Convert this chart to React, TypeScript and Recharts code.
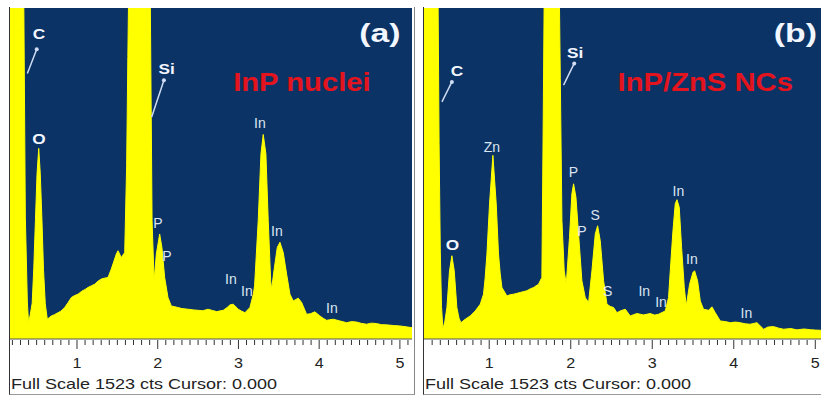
import { AreaChart, Area, XAxis, YAxis, CartesianGrid, ReferenceDot, ReferenceLine } from 'recharts'

// EDS spectra, energy in keV, counts (full scale 1523 cts)
const FULL_SCALE = 1523

const ENERGY_A = [
  0.17, 0.3, 0.34, 0.36, 0.385, 0.4, 0.42, 0.445, 0.465, 0.485, 0.505, 0.526, 0.545, 0.566, 0.585, 0.607,
  0.632, 0.682, 0.72, 0.765, 0.8, 0.848, 0.89, 0.93, 0.97, 1.012, 1.06, 1.1, 1.136, 1.18, 1.219, 1.26,
  1.301, 1.34, 1.384, 1.425, 1.487, 1.508, 1.549, 1.591, 1.615, 1.63, 1.66, 1.7, 1.74, 1.8, 1.86, 1.905,
  1.93, 1.955, 1.983, 2.024, 2.052, 2.086, 2.127, 2.168, 2.25, 2.3, 2.375, 2.44, 2.498, 2.56, 2.622, 2.68,
  2.73, 2.812, 2.86, 2.895, 2.936, 2.998, 3.04, 3.081, 3.142, 3.184, 3.2, 3.245, 3.279, 3.307, 3.34, 3.369,
  3.399, 3.411, 3.44, 3.481, 3.514, 3.555, 3.597, 3.638, 3.679, 3.741, 3.783, 3.844, 3.89, 3.947, 4.009, 4.05,
  4.092, 4.174, 4.257, 4.34, 4.4, 4.463, 4.52, 4.587, 4.65, 4.71, 4.77, 4.835, 4.92, 5.0, 5.08, 5.15,
]
const COUNTS_A = [
  2600, 2600, 1600, 560, 170, 75, 110, 165, 330, 545, 760, 877, 760, 545, 320, 162,
  91, 106, 112, 121, 128, 145, 168, 191, 200, 206, 220, 228, 237, 245, 252, 266,
  276, 280, 283, 322, 391, 406, 375, 398, 800, 1300, 2200, 3500, 4000, 3500, 2200, 1700,
  545, 268, 391, 483, 421, 283, 191, 152, 145, 140, 137, 134, 132, 130, 137, 131,
  126, 132, 145, 157, 160, 137, 128, 121, 145, 206, 245, 545, 852, 941, 852, 545,
  268, 229, 314, 421, 445, 398, 298, 206, 175, 188, 168, 114, 116, 125, 106, 95,
  86, 91, 83, 75, 80, 78, 72, 68, 73, 71, 66, 65, 62, 60, 56, 52,
]

const ENERGY_B = [
  0.2, 0.34, 0.37, 0.385, 0.4, 0.415, 0.432, 0.455, 0.481, 0.513, 0.542, 0.571, 0.603, 0.63, 0.653, 0.706,
  0.767, 0.828, 0.89, 0.93, 0.95, 0.972, 1.004, 1.045, 1.086, 1.114, 1.135, 1.156, 1.217, 1.258, 1.298, 1.34,
  1.38, 1.42, 1.462, 1.5, 1.544, 1.605, 1.646, 1.66, 1.675, 1.7, 1.76, 1.83, 1.86, 1.872, 1.892, 1.92,
  1.945, 1.985, 2.014, 2.035, 2.064, 2.096, 2.137, 2.178, 2.219, 2.26, 2.301, 2.33, 2.362, 2.403, 2.444, 2.485,
  2.525, 2.567, 2.607, 2.669, 2.73, 2.77, 2.812, 2.893, 2.975, 3.03, 3.077, 3.16, 3.2, 3.221, 3.254, 3.282,
  3.303, 3.331, 3.36, 3.393, 3.417, 3.458, 3.499, 3.519, 3.556, 3.589, 3.629, 3.691, 3.732, 3.773, 3.834, 3.9,
  3.957, 4.02, 4.08, 4.14, 4.202, 4.285, 4.366, 4.42, 4.488, 4.55, 4.611, 4.7, 4.775, 4.86, 4.939, 5.0, 5.074,
]
const COUNTS_B = [
  2600, 2600, 1700, 900, 400, 150, 45, 80, 145, 314, 383, 314, 145, 95, 75, 91,
  106, 129, 160, 206, 280, 391, 622, 845, 622, 391, 300, 237, 198, 204, 206, 210,
  214, 218, 222, 230, 237, 252, 283, 900, 1600, 2600, 3500, 2600, 1600, 1200, 545, 314,
  252, 468, 668, 714, 652, 483, 268, 191, 168, 314, 483, 521, 452, 268, 160, 150,
  145, 121, 129, 137, 106, 112, 117, 111, 117, 110, 114, 129, 191, 314, 498, 622,
  641, 606, 421, 237, 152, 252, 306, 314, 268, 175, 137, 132, 148, 121, 83, 80,
  75, 78, 75, 70, 68, 75, 45, 55, 57, 50, 45, 48, 42, 46, 43, 41, 40,
]

const TICKS_A = [
  0.2, 0.3, 0.4, 0.5, 0.6, 0.7, 0.8, 0.9, 1, 1.1, 1.2, 1.3, 1.4, 1.5, 1.6, 1.7, 1.8, 1.9, 2, 2.1, 2.2, 2.3, 2.4, 2.5,
  2.6, 2.7, 2.8, 2.9, 3, 3.1, 3.2, 3.3, 3.4, 3.5, 3.6, 3.7, 3.8, 3.9, 4, 4.1, 4.2, 4.3, 4.4, 4.5, 4.6, 4.7, 4.8, 4.9,
  5, 5.1,
]
const TICKS_B = [
  0.3, 0.4, 0.5, 0.6, 0.7, 0.8, 0.9, 1, 1.1, 1.2, 1.3, 1.4, 1.5, 1.6, 1.7, 1.8, 1.9, 2, 2.1, 2.2, 2.3, 2.4, 2.5,
  2.6, 2.7, 2.8, 2.9, 3, 3.1, 3.2, 3.3, 3.4, 3.5, 3.6, 3.7, 3.8, 3.9, 4, 4.1, 4.2, 4.3, 4.4, 4.5, 4.6, 4.7, 4.8, 4.9,
  5,
]

// peak labels: text, energy, counts, bold
const LABELS_A = [
  ['C', 0.529, 1408, true],
  ['Si', 2.111, 1246, true],
  ['O', 0.529, 923, true],
  ['In', 3.266, 992, false],
  ['P', 2.003, 535, false],
  ['P', 2.115, 383, false],
  ['In', 3.477, 498, false],
  ['In', 2.907, 277, false],
  ['In', 3.105, 222, false],
  ['In', 4.158, 143, false],
] as const
const LABELS_B = [
  ['C', 0.604, 1237, true],
  ['Si', 2.055, 1320, true],
  ['O', 0.55, 437, true],
  ['Zn', 1.033, 883, false],
  ['P', 2.034, 767, false],
  ['P', 2.137, 498, false],
  ['S', 2.301, 571, false],
  ['S', 2.452, 222, false],
  ['In', 3.32, 683, false],
  ['In', 3.487, 368, false],
  ['In', 2.902, 222, false],
  ['In', 3.107, 168, false],
  ['In', 4.155, 121, false],
] as const

const ARROWS_A = [
  [0.385, 1222, 0.501, 1333],
  [1.925, 1021, 2.077, 1191],
]
const ARROWS_B = [
  [0.42, 1091, 0.542, 1183],
  [1.912, 1168, 2.043, 1268],
]

const BG = '#0b3365'
const YELLOW = '#ffff00'
const FONT = '"Liberation Sans", Arial, sans-serif'
const CAPTION = 'Full Scale 1523 cts Cursor: 0.000'

function zip(es: number[], cs: number[]) {
  return es.map((e, i) => ({ e, c: cs[i] }))
}

function textShape(text: string, size: number, bold: boolean, fill: string, sx = 1) {
  return (p: any) => (
    <text
      transform={`translate(${p.cx},${p.cy}) scale(${sx},1)`}
      textAnchor="middle"
      dominantBaseline="central"
      fontFamily={FONT}
      fontSize={size}
      fontWeight={bold ? 'bold' : 'normal'}
      fill={fill}
    >
      {text}
    </text>
  )
}

function KevTick(props: any) {
  const { x, y, payload } = props
  const v = payload.value
  const major = Math.abs(v - Math.round(v)) < 1e-6
  return (
    <g>
      <line x1={x} x2={x} y1={y + 1} y2={y + (major ? 10 : 6)} stroke="#333" strokeWidth={1} />
      {major && (
        <text
          transform={`translate(${x},${y + 24}) scale(1.15,1)`}
          textAnchor="middle"
          dominantBaseline="central"
          fontFamily={FONT}
          fontSize={14}
          fill="#222"
        >
          {Math.round(v)}
        </text>
      )}
    </g>
  )
}

interface PanelProps {
  left: number
  width: number
  domain: [number, number]
  energy: number[]
  counts: number[]
  ticks: number[]
  labels: readonly (readonly [string, number, number, boolean])[]
  arrows: number[][]
  tag: string
  tagAt: [number, number]
  title: string
  titleAt: [number, number]
}

function Panel(p: PanelProps) {
  const data = zip(p.energy, p.counts)
  return (
    <div style={{ position: 'absolute', left: p.left, top: 8, width: p.width, height: 386 }}>
      <AreaChart width={p.width} height={386} data={data} margin={{ top: 0, right: 0, left: 0, bottom: 0 }}>
        <CartesianGrid horizontal={false} vertical={false} fill={BG} />
        <XAxis
          dataKey="e"
          type="number"
          domain={p.domain}
          ticks={p.ticks}
          interval={0}
          height={55}
          tickSize={0}
          tickMargin={0}
          tickLine={false}
          axisLine={{ stroke: '#555' }}
          tick={<KevTick />}
          allowDataOverflow
        />
        <YAxis hide domain={[0, FULL_SCALE]} allowDataOverflow />
        <Area
          type="linear"
          dataKey="c"
          stroke={YELLOW}
          strokeWidth={1}
          fill={YELLOW}
          fillOpacity={1}
          isAnimationActive={false}
        />
        {p.arrows.map((a, i) => (
          <ReferenceLine
            key={'a' + i}
            segment={[
              { x: a[0], y: a[1] },
              { x: a[2], y: a[3] },
            ]}
            stroke="#cfdcf2"
            strokeWidth={1.5}
          />
        ))}
        {p.arrows.map((a, i) => (
          <ReferenceDot key={'h' + i} x={a[2]} y={a[3]} r={2} fill="#cfdcf2" stroke="none" />
        ))}
        {p.labels.map((l, i) => (
          <ReferenceDot
            key={'l' + i}
            x={l[1]}
            y={l[2]}
            r={1}
            shape={textShape(l[0], l[3] ? 15 : 14, l[3], l[3] ? '#f2f6ff' : '#dbe5f2', l[3] ? 1.15 : 1)}
          />
        ))}
        <ReferenceDot x={p.tagAt[0]} y={p.tagAt[1]} r={1} shape={textShape(p.tag, 25, true, '#f2f6ff', 1.35)} />
        <ReferenceDot
          x={p.titleAt[0]}
          y={p.titleAt[1]}
          r={1}
          shape={textShape(p.title, 25, true, '#e3141d', 1.17)}
        />
      </AreaChart>
      <div
        style={{
          position: 'absolute',
          left: 1,
          top: 368,
          fontFamily: FONT,
          fontSize: 15,
          lineHeight: '16px',
          color: '#222',
          whiteSpace: 'nowrap',
          transform: 'scaleX(1.2)',
          transformOrigin: 'left center',
        }}
      >
        {CAPTION}
      </div>
    </div>
  )
}

export default function App() {
  return (
    <div
      style={{
        position: 'absolute',
        left: 0,
        top: 0,
        width: 821,
        height: 396,
        overflow: 'hidden',
        background: '#fff',
      }}
    >
      <div style={{ position: 'absolute', left: 9, top: 7, width: 404, height: 387, borderLeft: '1px solid #333', borderRight: '1px solid #888', borderBottom: '1px solid #999' }} />
      <div style={{ position: 'absolute', left: 423, top: 7, width: 398, height: 387, borderLeft: '1px solid #333', borderBottom: '1px solid #999' }} />
      <Panel
        left={10}
        width={402}
        domain={[0.17, 5.15]}
        energy={ENERGY_A}
        counts={COUNTS_A}
        ticks={TICKS_A}
        labels={LABELS_A}
        arrows={ARROWS_A}
        tag="(a)"
        tagAt={[4.752, 1408]}
        title="InP nuclei"
        titleAt={[3.786, 1181]}
      />
      <Panel
        left={424}
        width={397}
        domain={[0.2, 5.07]}
        energy={ENERGY_B}
        counts={COUNTS_B}
        ticks={TICKS_B}
        labels={LABELS_B}
        arrows={ARROWS_B}
        tag="(b)"
        tagAt={[4.755, 1408]}
        title="InP/ZnS NCs"
        titleAt={[3.65, 1181]}
      />
    </div>
  )
}
